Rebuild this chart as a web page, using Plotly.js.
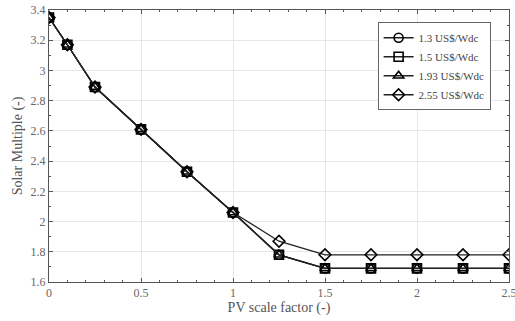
<!DOCTYPE html>
<html><head><meta charset="utf-8">
<script src="https://cdn.plot.ly/plotly-3.0.1.min.js"></script>
<style>html,body{margin:0;padding:0;background:#fff}#c{width:515px;height:321px}</style>
</head><body><div id="c"></div>
<script>
const xVals = [0, 0.1, 0.25, 0.5, 0.75, 1, 1.25, 1.5, 1.75, 2, 2.25, 2.5];
const sm13 = [3.35, 3.17, 2.89, 2.61, 2.33, 2.06, 1.78, 1.69, 1.69, 1.69, 1.69, 1.69];
const sm15 = [3.35, 3.17, 2.89, 2.61, 2.33, 2.06, 1.78, 1.69, 1.69, 1.69, 1.69, 1.69];
const sm193 = [3.35, 3.17, 2.89, 2.61, 2.33, 2.06, 1.78, 1.69, 1.69, 1.69, 1.69, 1.69];
const sm255 = [3.35, 3.17, 2.89, 2.61, 2.33, 2.06, 1.87, 1.78, 1.78, 1.78, 1.78, 1.78];
const names = ['1.3 US$/Wdc', '1.5 US$/Wdc', '1.93 US$/Wdc', '2.55 US$/Wdc'];
const symbols = ['circle-open', 'square-open', 'triangle-up-open', 'diamond-open'];
const series = [sm13, sm15, sm193, sm255];
const SERIF = 'Liberation Serif, Times New Roman, serif';

const traces = series.map((y, i) => ({
  x: xVals, y: y, name: names[i], type: 'scatter', mode: 'lines+markers',
  line: {color: '#222', width: 1.3},
  marker: {symbol: symbols[i], size: 9, color: '#000', line: {width: 1.6, color: '#000'}}
}));

const axBase = {
  showline: true, linecolor: '#555', linewidth: 1, mirror: 'allticks',
  ticks: 'inside', ticklen: 4, tickcolor: '#555',
  showgrid: true, gridcolor: '#e6e6e6', gridwidth: 1, zeroline: false,
  ticklabeloverflow: 'allow',
  tickfont: {family: SERIF, size: 12, color: '#666'}
};

const layout = {
  width: 515, height: 321,
  margin: {l: 49, r: 6, t: 10, b: 39},
  paper_bgcolor: '#fff', plot_bgcolor: '#fff',
  font: {family: SERIF, color: '#333'},
  xaxis: Object.assign({}, axBase, {
    range: [0, 2.5], dtick: 0.5, tick0: 0,
    minor: {dtick: 0.1, ticks: 'inside', ticklen: 2, tickcolor: '#555', showgrid: false},
    title: {text: 'PV scale factor (-)', font: {family: SERIF, size: 14, color: '#555'}, standoff: 2}
  }),
  yaxis: Object.assign({}, axBase, {
    range: [1.6, 3.4], dtick: 0.2, tick0: 1.6,
    minor: {dtick: 0.1, ticks: 'inside', ticklen: 2, tickcolor: '#555', showgrid: false},
    title: {text: 'Solar Multiple (-)', font: {family: SERIF, size: 14, color: '#555'}, standoff: 4}
  }),
  showlegend: true,
  legend: {
    x: 0.96, y: 0.955, xanchor: 'right', yanchor: 'top',
    bgcolor: '#fff', bordercolor: '#666', borderwidth: 1,
    font: {family: SERIF, size: 11, color: '#444'},
    tracegroupgap: 0, itemwidth: 30
  }
};

Plotly.newPlot('c', traces, layout, {displayModeBar: false, staticPlot: true});
</script></body></html>
